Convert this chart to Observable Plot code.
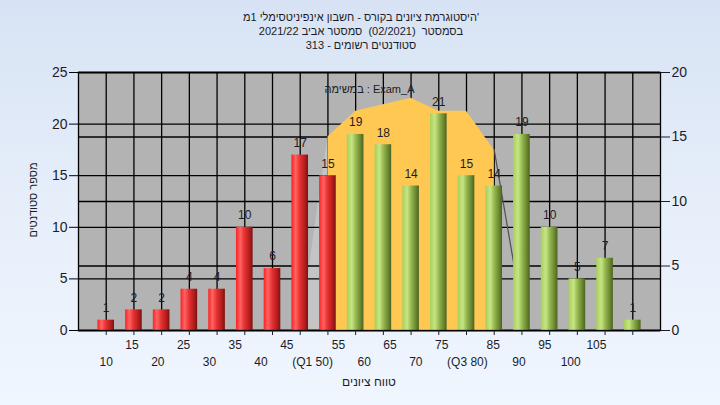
<!DOCTYPE html>
<html>
<head>
<meta charset="utf-8">
<script src="https://cdn.jsdelivr.net/npm/d3@7"></script>
<script src="https://cdn.jsdelivr.net/npm/@observablehq/plot@0.6"></script>
<style>
  html, body { margin: 0; padding: 0; }
  body { width: 720px; height: 405px; overflow: hidden;
         background: linear-gradient(to bottom, #d7e3f4 0%, #e6eefa 50%, #f0f6fe 100%);
         font-family: "Liberation Sans", Arial, sans-serif; }
</style>
</head>
<body>
<div id="chart"></div>
<script>
// ---- data ----
const titleLines = [
  "היסטוגרמת ציונים בקורס - חשבון אינפיניטסימלי 1מ'",
  "בסמסטר  (02/2021)  סמסטר אביב 2021/22",
  "סטודנטים רשומים - 313"
];
const legendText = "במשימה : Exam_A";
const xTitle = "טווח ציונים";
const yTitle = "מספר סטודנטים";

const categories = [10, 15, 20, 25, 30, 35, 40, 45, 50, 55, 60, 65, 70, 75, 80, 85, 90, 95, 100, 105];
const counts     = [1, 2, 2, 4, 4, 10, 6, 17, 15, 19, 18, 14, 21, 15, 14, 19, 10, 5, 7, 1];
const tickLabels = ["10", "15", "20", "25", "30", "35", "40", "45", "(Q1 50)", "55", "60", "65", "70", "75", "(Q3 80)", "85", "90", "95", "100", "105"];
const passFrom = 55; // bars from here are green

// band between Q1 and Q3 (right axis units)
const bandCats   = [50, 55, 60, 65, 70, 75, 80];
const bandValues = [15, 17, 17.5, 18, 17, 17, 14];
const leftEdgeCats = [45, 50];
const leftEdgeValues = [0, 15];
const rightEdgeCats = [80, 85];
const rightEdgeValues = [14, 1.5];

const leftTicks  = [0, 5, 10, 15, 20, 25];
const rightTicks = [0, 5, 10, 15, 20];

// ---- derived ----
const leftMax = 25, rightMax = 20, k = leftMax / rightMax;
const rows = categories.map((c, i) => ({cat: c, count: counts[i], label: tickLabels[i], i}));
const red = rows.filter(d => d.cat < passFrom);
const green = rows.filter(d => d.cat >= passFrom);
const band = bandCats.map((c, i) => ({cat: c, v: bandValues[i] * k}));
const leftEdge = leftEdgeCats.map((c, i) => ({cat: c, v: leftEdgeValues[i] * k}));
const rightEdge = rightEdgeCats.map((c, i) => ({cat: c, v: rightEdgeValues[i] * k}));
const halfBar = 1.5;
const labelSpread = 0.931; // category labels drift left in the reference
const labelPos = i => categories[0] + i * (categories[1] - categories[0]) * labelSpread;
const rowOdd = rows.filter(d => d.i % 2 === 1);
const rowEven = rows.filter(d => d.i % 2 === 0);

const textColor = "#1c1c28";

const plot = Plot.plot({
  width: 720,
  height: 405,
  marginTop: 72,
  marginBottom: 75,
  marginLeft: 78,
  marginRight: 60,
  style: {background: "transparent", fontFamily: "'Liberation Sans', Arial, sans-serif", fontSize: "12px", color: textColor},
  x: {domain: [5, 110], axis: null},
  y: {domain: [0, leftMax], axis: null},
  marks: [
    Plot.frame({fill: "#b3b3b3", stroke: null}),
    Plot.areaY(leftEdge, {x: "cat", y: "v", fill: "#c4c4c4"}),
    Plot.gridY(leftTicks, {stroke: "#000", strokeOpacity: 1, strokeWidth: 1.3}),
    Plot.gridY(rightTicks.map(r => r * k), {stroke: "#000", strokeOpacity: 1, strokeWidth: 1.3}),
    Plot.gridX(categories, {stroke: "#000", strokeOpacity: 1, strokeWidth: 1.3}),
    Plot.areaY(band, {x: "cat", y: "v", fill: "#ffc853"}),
    Plot.line(rightEdge, {x: "cat", y: "v", stroke: "#505050", strokeWidth: 1.2}),
    Plot.rectY(red, {x1: d => d.cat - halfBar, x2: d => d.cat + halfBar, y: "count", fill: "url(#gRed)", ariaLabel: "redbars"}),
    Plot.rectY(green, {x1: d => d.cat - halfBar, x2: d => d.cat + halfBar, y: "count", fill: "url(#gGreen)", ariaLabel: "greenbars"}),
    Plot.text(rows, {x: "cat", y: "count", text: d => String(d.count), dy: -12, fontSize: 12, fill: textColor}),
    Plot.frame({stroke: "#000", strokeWidth: 1.3}),
    Plot.axisY(leftTicks, {anchor: "left", tickSize: 9, tickPadding: 2, fontSize: 14, label: null, stroke: "#000"}),
    Plot.axisY(rightTicks.map(r => r * k), {anchor: "right", tickSize: 9, tickPadding: 2, fontSize: 14, label: null, tickFormat: d => String(Math.round(d / k))}),
    Plot.axisX(categories, {anchor: "bottom", tickSize: 5, tickFormat: () => "", label: null}),
    Plot.text(rowOdd, {x: d => labelPos(d.i), y: 0, text: "label", dy: 15, fontSize: 12, fill: textColor}),
    Plot.text(rowEven, {x: d => labelPos(d.i), y: 0, text: "label", dy: 32, fontSize: 12, fill: textColor}),
    Plot.text([legendText], {frameAnchor: "top", dy: 13, fontSize: 11, fill: textColor})
  ]
});

const svg = d3.select(plot);
const defs = svg.insert("defs", ":first-child");
function grad(id, stops) {
  const g = defs.append("linearGradient").attr("id", id).attr("x1", 0).attr("x2", 1).attr("y1", 0).attr("y2", 0);
  stops.forEach(([o, c]) => g.append("stop").attr("offset", o).attr("stop-color", c));
}
grad("gRed", [[0, "#ff2020"], [0.25, "#ff6464"], [0.5, "#e83232"], [0.8, "#b31e1e"], [1, "#7c1212"]]);
grad("gGreen", [[0, "#a7d05a"], [0.3, "#c6e584"], [0.55, "#94b54e"], [0.8, "#6d8b33"], [1, "#4a6320"]]);
const f = defs.append("filter").attr("id", "shadow").attr("x", "-50%").attr("y", "-20%").attr("width", "220%").attr("height", "140%");
f.append("feDropShadow").attr("dx", 5).attr("dy", 3).attr("stdDeviation", 2).attr("flood-color", "#000").attr("flood-opacity", 0.5);
svg.selectAll('g[aria-label="redbars"], g[aria-label="greenbars"]').attr("filter", "url(#shadow)");

// titles (text)
const tg = svg.append("g").attr("fill", textColor).attr("text-anchor", "middle");
titleLines.forEach((t, i) => tg.append("text").attr("x", 361).attr("y", 21 + i * 14).attr("font-size", 11).text(t));
tg.append("text").attr("x", 369).attr("y", 386).attr("font-size", 12).text(xTitle);
tg.append("text").attr("transform", "translate(37,200) rotate(-90)").attr("font-size", 11).text(yTitle);

document.getElementById("chart").appendChild(plot);
</script>
</body>
</html>
